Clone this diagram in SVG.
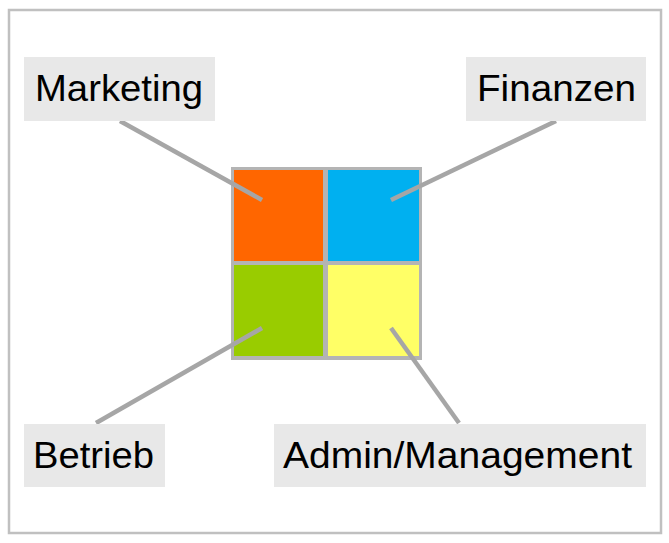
<svg xmlns="http://www.w3.org/2000/svg" width="669" height="543" viewBox="0 0 669 543">
<style>
.lbl{fill:#e8e8e8}
.t{font-family:"Liberation Sans",Arial,sans-serif;font-size:37px;fill:#000}
.c{stroke:#a6a6a6;stroke-width:4.5;fill:none}
</style>
<rect x="0" y="0" width="669" height="543" fill="#fff"/>
<rect x="9" y="10" width="652" height="523" fill="#fff" stroke="#c0c0c0" stroke-width="2.5"/>
<g id="grid">
<rect x="231" y="167" width="191" height="193" fill="#b4b4b4"/>
<rect x="234" y="170" width="89" height="91" fill="#ff6600"/>
<rect x="328" y="170" width="91" height="91" fill="#00b0f0"/>
<rect x="234" y="265" width="89" height="91" fill="#99cc00"/>
<rect x="328" y="265" width="91" height="91" fill="#ffff66"/>
</g>
<g id="connectors">
<line class="c" x1="120" y1="121" x2="262" y2="200"/>
<line class="c" x1="556" y1="121" x2="391" y2="200"/>
<line class="c" x1="96" y1="423" x2="262" y2="328"/>
<line class="c" x1="459" y1="423" x2="391" y2="328"/>
</g>
<g id="marketing">
<rect class="lbl" x="24" y="57" width="191" height="64"/>
<text class="t" x="35" y="101" textLength="168" lengthAdjust="spacingAndGlyphs">Marketing</text>
</g>
<g id="finanzen">
<rect class="lbl" x="466" y="57" width="180" height="64"/>
<text class="t" x="477" y="101" textLength="159" lengthAdjust="spacingAndGlyphs">Finanzen</text>
</g>
<g id="betrieb">
<rect class="lbl" x="24" y="424" width="141" height="63"/>
<text class="t" x="33" y="468" textLength="121" lengthAdjust="spacingAndGlyphs">Betrieb</text>
</g>
<g id="admin">
<rect class="lbl" x="274" y="424" width="372" height="63"/>
<text class="t" x="283" y="468" textLength="349" lengthAdjust="spacingAndGlyphs">Admin/Management</text>
</g>
</svg>
